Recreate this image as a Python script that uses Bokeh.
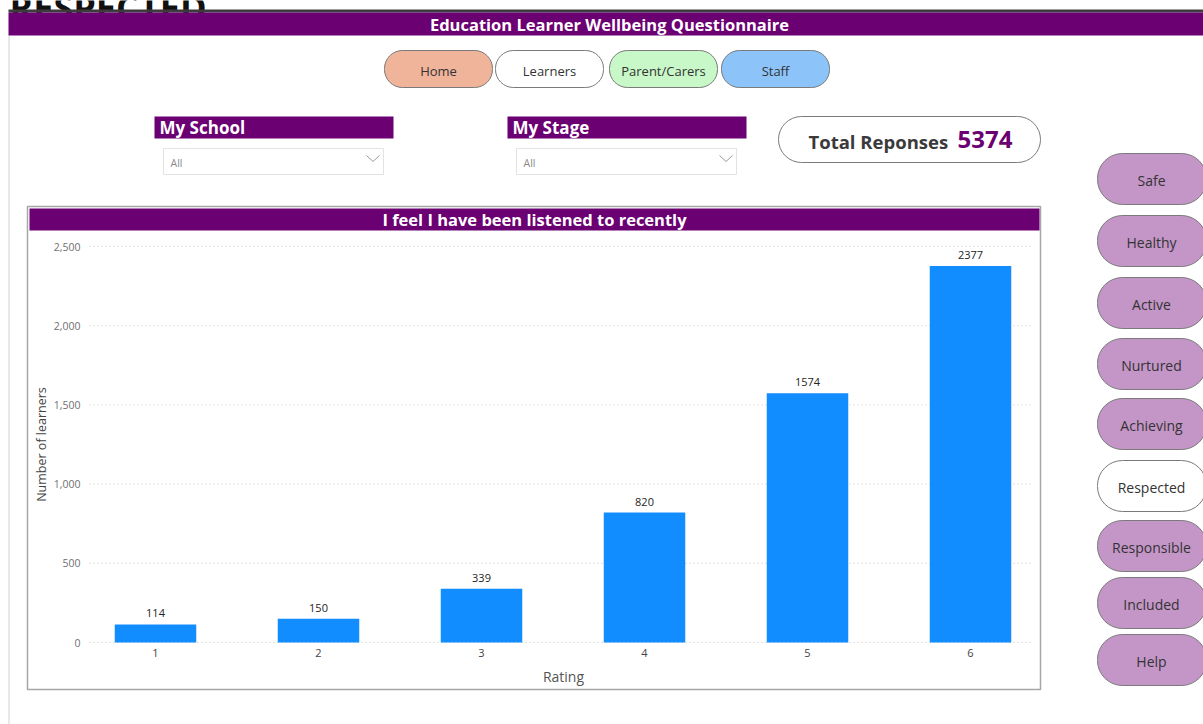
from bokeh.plotting import figure
from bokeh.models import Range1d, LinearAxis, FixedTicker, NumeralTickFormatter, ColumnDataSource
from bokeh.core.properties import value
from bokeh.embed import file_html
from bokeh.resources import INLINE

# ---------------- data ----------------
page_heading = "RESPECTED"
page_title = "Education Learner Wellbeing Questionnaire"
chart_title = "I feel I have been listened to recently"
ratings = ["1", "2", "3", "4", "5", "6"]
learners = [114, 150, 339, 820, 1574, 2377]
y_ticks = [0, 500, 1000, 1500, 2000, 2500]
y_title = "Number of learners"
x_title = "Rating"
total_label = "Total Reponses"
total_responses = 5374
nav_labels = ["Home", "Learners", "Parent/Carers", "Staff"]
filter_labels = ["My School", "My Stage"]
filter_values = ["All", "All"]
side_labels = ["Safe", "Healthy", "Active", "Nurtured", "Achieving",
               "Respected", "Responsible", "Included", "Help"]
current_page = "Respected"

# ---------------- styles ----------------
PURPLE = "#6B0072"
BAR = "#118DFF"
LAVENDER = "#C496C8"
PILL_LINE = "#7A7A7A"
FONT = "Open Sans"
F = value(FONT)

W, H = 1203, 724
OX, OY = 0, 0


def Y(v):
    return OY + H - v


p = figure(width=W, height=H, x_range=Range1d(OX, OX + W), y_range=Range1d(0, H),
           x_axis_type=None, y_axis_type=None, output_backend="svg",
           toolbar_location=None, min_border=0, outline_line_color=None,
           background_fill_color="white", border_fill_color="white")


def boxes(l, r, t, b, fill, line, radius=0, lw=1.0):
    p.quad(left=l, right=r, top=[Y(v) for v in t], bottom=[Y(v) for v in b],
           fill_color=fill, line_color=line, line_width=lw, border_radius=radius)


def txt(xs, ys, texts, size, color, style="normal", align="center", baseline="middle"):
    p.text(x=xs, y=[Y(v) for v in ys], text=texts, text_font=F, text_font_size=size,
           text_color=color, text_font_style=style, text_align=align, text_baseline=baseline)


# page frame
txt([9], [6.5], [page_heading], "36px", "#111111", "bold", align="left", baseline="alphabetic")
p.segment(x0=8.5, x1=8.5, y0=Y(35), y1=Y(724), line_color="#D0D0D0", line_width=1)
boxes([8], [W], [9], [12], "#3C3C3C", None)
boxes([8], [W], [12], [35], PURPLE, None)
txt([609], [24], [page_title], "16.5px", "white", "bold")

# navigation pills
nav_l = [384, 495, 609, 721]
nav_fill = ["#F0B49B", "white", "#C8F7C8", "#8CC4FA"]
boxes(nav_l, [v + 108 for v in nav_l], [50] * 4, [87] * 4, nav_fill, PILL_LINE, radius=18)
txt([v + 54 for v in nav_l], [70] * 4, nav_labels, "13px", "#333333")

# filters
flt_l = [154, 507]
boxes(flt_l, [v + 239 for v in flt_l], [116] * 2, [138] * 2, PURPLE, None)
txt([v + 5 for v in flt_l], [127] * 2, filter_labels, "17px", "white", "bold", align="left")
boxes([v + 9 for v in flt_l], [v + 229 for v in flt_l], [148] * 2, [174] * 2, "white", "#E3E3E3")
txt([v + 16 for v in flt_l], [162] * 2, filter_values, "10.5px", "#8A8A8A", align="left")
p.multi_line(xs=[[v + 212, v + 218.5, v + 225] for v in flt_l],
             ys=[[Y(155), Y(161), Y(155)] for _ in flt_l], line_color="#9A9A9A", line_width=1)

# total responses card
boxes([778], [1040], [116], [162], "white", PILL_LINE, radius=23)
txt([808], [141], [total_label], "18.5px", "#3A3A3A", "bold", align="left")
txt([957], [139], [str(total_responses)], "24px", PURPLE, "bold", align="left")

# side navigation pills
side_t = [153, 215, 277, 338, 398, 460, 520, 577, 634]
side_fill = ["white" if s == current_page else LAVENDER for s in side_labels]
boxes([1097] * len(side_t), [1206] * len(side_t), side_t, [v + 51 for v in side_t],
      side_fill, PILL_LINE, radius=25)
txt([1151] * len(side_t), [v + 27 for v in side_t], side_labels, "14px", "#333333")

# chart panel
boxes([27], [1040], [206], [689], "white", "#A6A6A6", lw=1.5)
boxes([29], [1039], [208], [230], PURPLE, None)
txt([534], [219], [chart_title], "16.5px", "white", "bold")

# ---------------- chart (own scales) ----------------
positions = list(range(1, len(ratings) + 1))
bar_x0, bar_step = 155.0, 163.0
zero_row, top_row = 642.0, 246.0
unit_px = (zero_row - top_row) / y_ticks[-1]
p.extra_x_ranges = {"cx": Range1d(1 + (OX - bar_x0) / bar_step, 1 + (OX + W - bar_x0) / bar_step)}
p.extra_y_ranges = {"cy": Range1d((zero_row - (OY + H)) / unit_px, (zero_row - OY) / unit_px)}

p.segment(x0=89, x1=1030, y0=y_ticks, y1=y_ticks, y_range_name="cy",
          line_color="#C4C4C4", line_dash="1 3", line_width=1)

src = ColumnDataSource(dict(x=positions, rating=ratings, n=learners,
                            lab=[str(v) for v in learners]))
p.vbar(x="x", top="n", bottom=0, width=0.5, source=src, x_range_name="cx",
       y_range_name="cy", fill_color=BAR, line_color=None)
p.text(x="x", y="n", text="lab", source=src, x_range_name="cx", y_range_name="cy",
       y_offset=-11, text_font=F, text_font_size="11px", text_color="#252423",
       text_align="center", text_baseline="middle")

yax = LinearAxis(y_range_name="cy", fixed_location=85, ticker=FixedTicker(ticks=y_ticks),
                 formatter=NumeralTickFormatter(format="0,0"),
                 bounds=(y_ticks[0], y_ticks[-1]), axis_label=y_title)
xax = LinearAxis(x_range_name="cx", fixed_location=Y(zero_row), ticker=FixedTicker(ticks=positions),
                 major_label_overrides={k: r for k, r in zip(positions, ratings)},
                 bounds=(0.5, len(ratings) + 0.5), axis_label=x_title)
for ax in (yax, xax):
    ax.axis_line_color = None
    ax.major_tick_line_color = None
    ax.minor_tick_line_color = None
    ax.major_tick_in = 0
    ax.major_tick_out = 0
    ax.major_label_text_font = FONT
    ax.axis_label_text_font = FONT
    ax.axis_label_text_font_style = "normal"
yax.major_label_text_font_size = "10.5px"
yax.major_label_text_color = "#707070"
yax.major_label_standoff = 5
yax.axis_label_text_font_size = "12.5px"
yax.axis_label_text_color = "#444444"
yax.axis_label_standoff = 1
xax.major_label_text_font_size = "11px"
xax.major_label_text_color = "#444444"
xax.major_label_standoff = 6
xax.axis_label_text_font_size = "14px"
xax.axis_label_text_color = "#555555"
xax.axis_label_standoff = 7
p.add_layout(yax, "left")
p.add_layout(xax, "below")

open("out.html", "w").write(file_html(p, INLINE))
